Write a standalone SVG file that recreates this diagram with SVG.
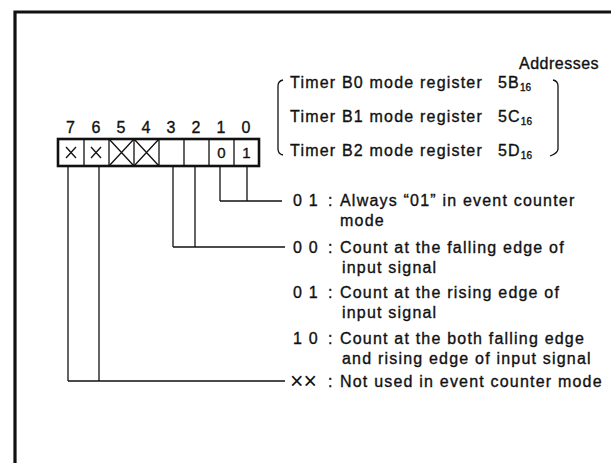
<svg xmlns="http://www.w3.org/2000/svg" width="611" height="463" viewBox="0 0 611 463">
<style>
text{font-family:"Liberation Sans",Arial,sans-serif;font-size:16px;fill:#111;stroke:#111;stroke-width:0.35;letter-spacing:1.2px}
.sub{font-size:10px;letter-spacing:0}
.ln{stroke:#111;stroke-width:1.3;fill:none}
.frame{stroke:#111;stroke-width:3.2;fill:none}
.box{stroke:#111;stroke-width:2.6;fill:none}
.mid{text-anchor:middle;letter-spacing:0;font-size:15px}
.x{font-size:23px;letter-spacing:0;stroke-width:0}
.addr{letter-spacing:0.5px}
</style>
<rect width="611" height="463" fill="#fff"/>
<path class="frame" d="M15,470 V12 H620"/>
<g id="title">
<text class="addr" x="519" y="69">Addresses</text>
</g>
<g id="registers">
<path class="ln" d="M283,80 Q278,81 278,86 V149 Q278,154 283,155"/>
<path class="ln" d="M553,80 Q558,81 558,86 V149 Q558,153 550,156"/>
<text x="290" y="88">Timer B0 mode register</text>
<text x="498" y="88">5B<tspan class="sub" dy="3">16</tspan></text>
<text x="290" y="122">Timer B1 mode register</text>
<text x="498" y="122">5C<tspan class="sub" dy="3">16</tspan></text>
<text x="290" y="156">Timer B2 mode register</text>
<text x="498" y="156">5D<tspan class="sub" dy="3">16</tspan></text>
</g>
<g id="register">
<g class="mid">
<text x="71" y="133">7</text><text x="96.5" y="133">6</text><text x="121.5" y="133">5</text><text x="146.5" y="133">4</text>
<text x="171.5" y="133">3</text><text x="196.5" y="133">2</text><text x="221.5" y="133">1</text><text x="246.5" y="133">0</text>
</g>
<rect class="box" x="58" y="139" width="201" height="27"/>
<path class="ln" d="M84,139V166M109,139V166M134,139V166M159,139V166M184,139V166M209,139V166M234,139V166"/>
<path class="ln" d="M66,147L76,158M76,147L66,158M91,147L101,158M101,147L91,158M109,139L134,166M134,139L109,166M134,139L159,166M159,139L134,166"/>
<text class="mid" x="221.5" y="158">0</text>
<text class="mid" x="246.5" y="158">1</text>
</g>
<g id="connectors">
<path class="ln" d="M220,166V201M247,166V201M220,201H282"/>
<path class="ln" d="M173,166V247M195,166V247M173,247H285"/>
<path class="ln" d="M68,166V381M99,166V381M68,381H285"/>
</g>
<g id="desc-b1b0">
<text x="293" y="206">0 1</text><text x="328" y="206">:</text>
<text x="340" y="206">Always “01” in event counter</text>
<text x="340" y="226">mode</text>
</g>
<g id="desc-b3b2">
<text x="293" y="253">0 0</text><text x="328" y="253">:</text>
<text x="340" y="253">Count at the falling edge of</text>
<text x="342" y="273">input signal</text>
<text x="293" y="298">0 1</text><text x="328" y="298">:</text>
<text x="340" y="298">Count at the rising edge of</text>
<text x="342" y="318">input signal</text>
<text x="293" y="344">1 0</text><text x="328" y="344">:</text>
<text x="340" y="344">Count at the both falling edge</text>
<text x="342" y="364">and rising edge of input signal</text>
</g>
<g id="desc-b7b6">
<text class="x" x="290" y="389">××</text><text x="328" y="387">:</text>
<text x="340" y="387">Not used in event counter mode</text>
</g>
</svg>
